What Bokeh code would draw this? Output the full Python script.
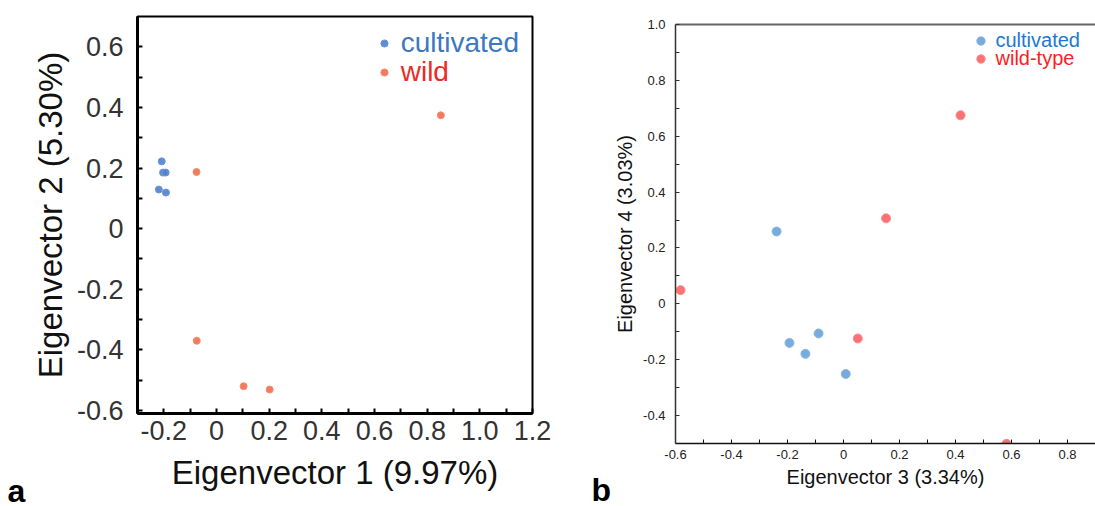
from bokeh.plotting import figure
from bokeh.models import FixedTicker, LinearAxis, Legend, LegendItem, Label, Range1d
from bokeh.layouts import row
from bokeh.embed import file_html
from bokeh.resources import INLINE

FONT = "Liberation Sans"

# ---------------- data: panel a ----------------
a_cult_x = [-0.208, -0.203, -0.193, -0.219, -0.192]
a_cult_y = [0.222, 0.185, 0.185, 0.129, 0.119]
a_wild_x = [-0.076, 0.852, -0.075, 0.103, 0.202]
a_wild_y = [0.187, 0.374, -0.370, -0.520, -0.531]
a_xticks = [-0.2, 0.0, 0.2, 0.4, 0.6, 0.8, 1.0, 1.2]
a_xtick_labels = ["-0.2", "0", "0.2", "0.4", "0.6", "0.8", "1.0", "1.2"]
a_yticks = [-0.6, -0.4, -0.2, 0.0, 0.2, 0.4, 0.6]
a_ytick_labels = ["-0.6", "-0.4", "-0.2", "0", "0.2", "0.4", "0.6"]
a_xminor = [-0.3, -0.1, 0.1, 0.3, 0.5, 0.7, 0.9, 1.1]
a_yminor = [-0.5, -0.3, -0.1, 0.1, 0.3, 0.5]
a_labels = ["cultivated", "wild"]
a_xtitle = "Eigenvector 1 (9.97%)"
a_ytitle = "Eigenvector 2 (5.30%)"

# ---------------- data: panel b ----------------
b_cult_x = [-0.239, -0.193, -0.136, -0.089, 0.008]
b_cult_y = [0.259, -0.140, -0.179, -0.106, -0.251]
b_wild_x = [-0.582, 0.152, 0.418, 0.051, 0.582]
b_wild_y = [0.049, 0.306, 0.675, -0.124, -0.501]
b_xticks = [-0.6, -0.4, -0.2, 0.0, 0.2, 0.4, 0.6, 0.8]
b_xtick_labels = ["-0.6", "-0.4", "-0.2", "0", "0.2", "0.4", "0.6", "0.8"]
b_yticks = [-0.4, -0.2, 0.0, 0.2, 0.4, 0.6, 0.8, 1.0]
b_ytick_labels = ["-0.4", "-0.2", "0", "0.2", "0.4", "0.6", "0.8", "1.0"]
b_xminor = [-0.5, -0.3, -0.1, 0.1, 0.3, 0.5, 0.7]
b_yminor = [-0.3, -0.1, 0.1, 0.3, 0.5, 0.7, 0.9]
b_labels = ["cultivated", "wild-type"]
b_xtitle = "Eigenvector 3 (3.34%)"
b_ytitle = "Eigenvector 4 (3.03%)"

panel_letters = ["a", "b"]


def style_axis(ax, ticks, labels, minor, lw, tick_len, tick_w, lab_size, lab_color,
               standoff, title, title_size, title_standoff, line_color="black"):
    ax.ticker = FixedTicker(ticks=ticks, minor_ticks=minor)
    ax.major_label_overrides = {t: l for t, l in zip(ticks, labels)}
    ax.axis_line_width = lw
    ax.axis_line_color = line_color
    ax.major_tick_in = tick_len
    ax.major_tick_out = 0
    ax.minor_tick_in = tick_len
    ax.minor_tick_out = 0
    ax.major_tick_line_width = tick_w
    ax.minor_tick_line_width = tick_w
    ax.major_tick_line_color = line_color
    ax.minor_tick_line_color = line_color
    ax.major_label_text_font = FONT
    ax.major_label_text_font_size = lab_size
    ax.major_label_text_color = lab_color
    ax.major_label_standoff = standoff
    ax.axis_label = title
    ax.axis_label_text_font = FONT
    ax.axis_label_text_font_size = title_size
    ax.axis_label_text_font_style = "normal"
    ax.axis_label_text_color = "#111111"
    ax.axis_label_standoff = title_standoff


def add_legend(p, renderer, text, color, loc, glyph, size, standoff):
    lg = Legend(items=[LegendItem(label=text, renderers=[renderer])], location=loc,
                padding=0, margin=0, spacing=0, border_line_color=None,
                background_fill_alpha=0, glyph_width=glyph, glyph_height=glyph,
                label_standoff=standoff, label_text_font=FONT,
                label_text_font_size=size, label_text_color=color)
    p.add_layout(lg)


def letter_fig(width, text, x, y):
    f = figure(width=width, height=506, x_range=Range1d(0, 1), y_range=Range1d(0, 1),
               output_backend="svg", toolbar_location=None, x_axis_location=None,
               y_axis_location=None, min_border=0, frame_align=False)
    f.grid.visible = False
    f.outline_line_color = None
    f.add_layout(Label(x=x, y=y, x_units="screen", y_units="screen", text=text,
                       text_font=FONT, text_font_size="32px", text_font_style="bold",
                       text_color="black", text_baseline="alphabetic"))
    return f


# ---------------- panel a ----------------
pa = figure(width=532, height=506, x_range=Range1d(-0.3, 1.2), y_range=Range1d(-0.61, 0.70),
            output_backend="svg", toolbar_location=None, frame_align=False,
            min_border_left=108, min_border_right=28, min_border_top=16, min_border_bottom=93)
pa.grid.visible = False
pa.outline_line_color = "black"
pa.outline_line_width = 2
style_axis(pa.xaxis[0], a_xticks, a_xtick_labels, a_xminor, 3, 5, 2, "27px", "#333333",
           7, a_xtitle, "33px", 11)
style_axis(pa.yaxis[0], a_yticks, a_ytick_labels, a_yminor, 3, 5, 2, "27px", "#333333",
           14, a_ytitle, "33px", 5)

ra1 = pa.scatter(a_cult_x, a_cult_y, size=7, fill_color="#4F80CC", line_color="#6E96D6",
                 fill_alpha=0.9, line_width=1)
ra2 = pa.scatter(a_wild_x, a_wild_y, size=7, fill_color="#F26B4C", line_color="#F58C72",
                 fill_alpha=0.9, line_width=1)
add_legend(pa, ra1, a_labels[0], "#3C78C0", (237.7, 353.7), 18, "28px", 8)
add_legend(pa, ra2, a_labels[1], "#EC2A26", (237.7, 325.3), 18, "28px", 8)

# ---------------- panel b ----------------
pb = figure(width=484, height=506, x_range=Range1d(-0.6, 0.9), y_range=Range1d(-0.5, 1.0),
            output_backend="svg", toolbar_location=None, frame_align=False,
            min_border_left=64, min_border_right=0, min_border_top=24, min_border_bottom=63)
pb.grid.visible = False
pb.outline_line_color = None
style_axis(pb.xaxis[0], b_xticks, b_xtick_labels, b_xminor, 1.5, 4, 1, "13px", "#222222",
           6, b_xtitle, "20px", 4, line_color="#111111")
style_axis(pb.yaxis[0], b_yticks, b_ytick_labels, b_yminor, 1.5, 4, 1, "13px", "#222222",
           10, b_ytitle, "20px", 4, line_color="#333333")
top_ax = LinearAxis(ticker=FixedTicker(ticks=[]), major_label_text_font_size="0px",
                    axis_line_color="#666666", axis_line_width=2, major_tick_in=0,
                    major_tick_out=0, minor_tick_in=0, minor_tick_out=0)
pb.add_layout(top_ax, "above")

rb1 = pb.scatter(b_cult_x, b_cult_y, size=9, fill_color="#6FA6DA", line_color="#8DB9E3",
                 fill_alpha=0.95, line_width=1)
rb2 = pb.scatter(b_wild_x, b_wild_y, size=9, fill_color="#FA6A6C", line_color="#FC8C8D",
                 fill_alpha=0.95, line_width=1)
add_legend(pb, rb1, b_labels[0], "#1C78CF", (294.5, 391.5), 21, "20px", 5)
add_legend(pb, rb2, b_labels[1], "#FF1C1C", (294.5, 373.0), 21, "20px", 5)

la = letter_fig(28, panel_letters[0], 7, 16)
lb = letter_fig(51, panel_letters[1], 31, 17)

p = row(la, pa, lb, pb)
open("out.html", "w").write(file_html(p, INLINE))
